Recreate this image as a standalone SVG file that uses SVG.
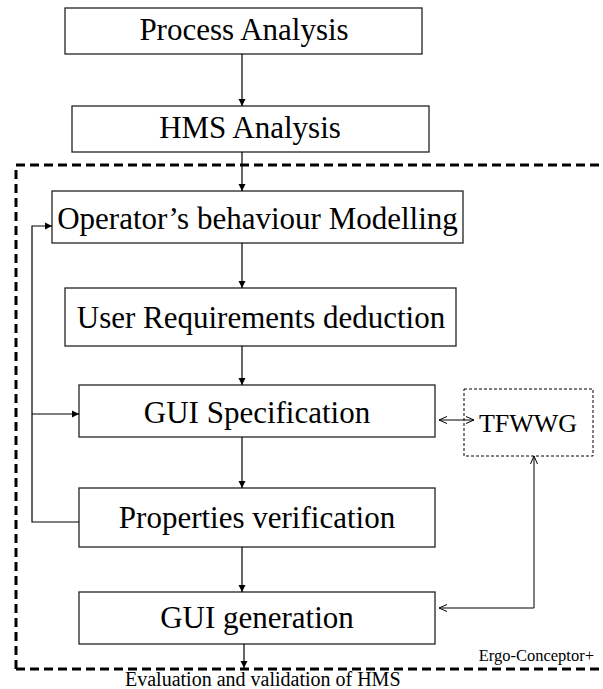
<svg xmlns="http://www.w3.org/2000/svg" width="603" height="689" viewBox="0 0 603 689">
<style>
.box{fill:#fff;stroke:#222;stroke-width:1.3}
.t{font-family:"Liberation Serif","Times New Roman",serif;font-size:31px;fill:#000;text-anchor:middle}
.s{font-family:"Liberation Serif","Times New Roman",serif;fill:#000}
.ln{fill:none;stroke:#000;stroke-width:1.2}
.op{fill:none;stroke:#000;stroke-width:1}
</style>
<defs>
<marker id="ah" markerWidth="8" markerHeight="8" refX="7" refY="4" orient="auto" markerUnits="userSpaceOnUse">
<path d="M0,0.5 L7,4 L0,7.5 Z" fill="#000"/>
</marker>
<marker id="oh" markerWidth="10" markerHeight="10" refX="9" refY="5" orient="auto-start-reverse" markerUnits="userSpaceOnUse">
<path d="M1,1.5 L9,5 L1,8.5" fill="none" stroke="#000" stroke-width="1"/>
</marker>
</defs>
<rect width="603" height="689" fill="#fff"/>
<g id="container">
<path d="M16,669 V165 H603 M16,669 H603" fill="none" stroke="#000" stroke-width="3" stroke-dasharray="9 5"/>
<text class="s" x="594" y="661" font-size="16.5" text-anchor="end">Ergo-Conceptor+</text>
</g>
<g id="process-analysis">
<rect class="box" x="65" y="8" width="357" height="46"/>
<text class="t" x="244" y="40">Process Analysis</text>
</g>
<g id="hms-analysis">
<rect class="box" x="72" y="106" width="357" height="46"/>
<text class="t" x="250" y="138">HMS Analysis</text>
</g>
<g id="operator-modelling">
<rect class="box" x="52" y="191" width="411" height="52"/>
<text class="t" x="257.5" y="229">Operator’s behaviour Modelling</text>
</g>
<g id="user-requirements">
<rect class="box" x="65" y="288" width="391" height="58"/>
<text class="t" x="261" y="328">User Requirements deduction</text>
</g>
<g id="gui-specification">
<rect class="box" x="79" y="385" width="356" height="52"/>
<text class="t" x="257" y="423">GUI Specification</text>
</g>
<g id="tfwwg">
<rect x="464" y="389" width="129" height="67" fill="none" stroke="#000" stroke-width="1" stroke-dasharray="3 2"/>
<text class="s" x="528" y="432" font-size="26" text-anchor="middle">TFWWG</text>
</g>
<g id="properties-verification">
<rect class="box" x="79" y="488" width="356" height="59"/>
<text class="t" x="257" y="528">Properties verification</text>
</g>
<g id="gui-generation">
<rect class="box" x="79" y="592" width="356" height="52"/>
<text class="t" x="257" y="628">GUI generation</text>
</g>
<g id="evaluation">
<text class="s" x="125" y="686" font-size="20">Evaluation and validation of HMS</text>
</g>
<g id="connectors">
<line class="ln" x1="242" y1="54" x2="242" y2="106" marker-end="url(#ah)"/>
<line class="ln" x1="242" y1="152" x2="242" y2="191" marker-end="url(#ah)"/>
<line class="ln" x1="242" y1="243" x2="242" y2="288" marker-end="url(#ah)"/>
<line class="ln" x1="242" y1="346" x2="242" y2="385" marker-end="url(#ah)"/>
<line class="ln" x1="242" y1="437" x2="242" y2="488" marker-end="url(#ah)"/>
<line class="ln" x1="242" y1="547" x2="242" y2="592" marker-end="url(#ah)"/>
<line class="ln" x1="244" y1="644" x2="244" y2="668" marker-end="url(#ah)"/>
<path class="ln" d="M79,522 H32 V226 H52" marker-end="url(#ah)"/>
<line class="ln" x1="32" y1="414" x2="79" y2="414" marker-end="url(#ah)"/>
<line class="op" x1="439" y1="420" x2="474" y2="420" marker-start="url(#oh)" marker-end="url(#oh)"/>
<path class="op" d="M439,608 H534 V456" marker-start="url(#oh)" marker-end="url(#oh)"/>
</g>
</svg>
